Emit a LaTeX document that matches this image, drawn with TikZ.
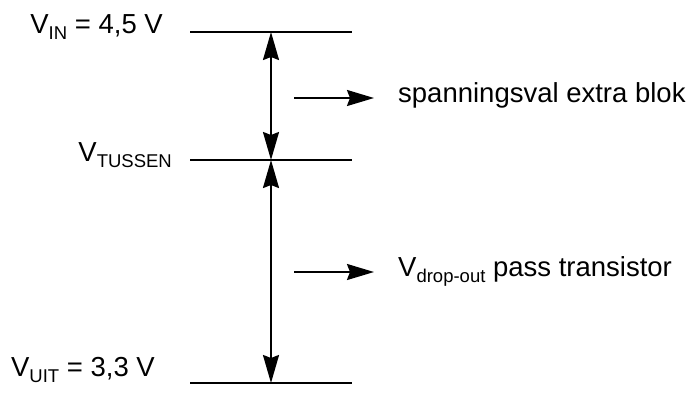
\documentclass[tikz,border=0pt]{standalone}
\usepackage{fontspec}
\setmainfont{Liberation Sans}
\usetikzlibrary{arrows.meta}
% lowered, smaller index text after a V
\newcommand\idx[1]{\raisebox{-6pt}{\fontsize{18.5}{18.5}\selectfont #1}}
\begin{document}
\begin{tikzpicture}[x=1pt,y=-1pt,
  level/.style={line width=2.4pt},
  span/.style={line width=2pt,{Stealth[length=28pt,width=16pt,inset=3pt]}-{Stealth[length=28pt,width=16pt,inset=3pt]}},
  pointer/.style={line width=2pt,-{Stealth[length=27pt,width=16pt,inset=3pt]}},
  lbl/.style={inner sep=0pt,font=\fontsize{27.5}{33}\selectfont}]
\useasboundingbox (0,0) rectangle (694,392);

% voltage levels
\coordinate (inL) at (190,32);  \coordinate (inR) at (352,32);  \coordinate (inM) at (271,32);
\coordinate (tuL) at (190,160); \coordinate (tuR) at (352,160); \coordinate (tuM) at (271,160);
\coordinate (uiL) at (190,383); \coordinate (uiR) at (352,383); \coordinate (uiM) at (271,383);
\draw[level] (inL) -- (inR);
\draw[level] (tuL) -- (tuR);
\draw[level] (uiL) -- (uiR);

% level labels
\node[lbl,anchor=base east] (vin) at (163,33) {V\idx{IN} = 4,5 V};
\node[lbl,anchor=base east] (vtus) at (172,161) {V\idx{TUSSEN}};
\node[lbl,anchor=base east] (vuit) at (155,376) {V\idx{UIT} = 3,3 V};

% voltage spans
\draw[span] (inM) -- (tuM);
\draw[span] (tuM) -- (uiM);

% explanations
\coordinate (p1a) at (294,98);  \coordinate (p1b) at (374,98);
\coordinate (p2a) at (294,272); \coordinate (p2b) at (374,272);
\draw[pointer] (p1a) -- (p1b);
\draw[pointer] (p2a) -- (p2b);
\node[lbl,anchor=base west] (t1) at (398,102) {spanningsval extra blok};
\node[lbl,anchor=base west] (t2) at (398,276) {V\idx{drop-out} pass transistor};
\end{tikzpicture}
\end{document}
